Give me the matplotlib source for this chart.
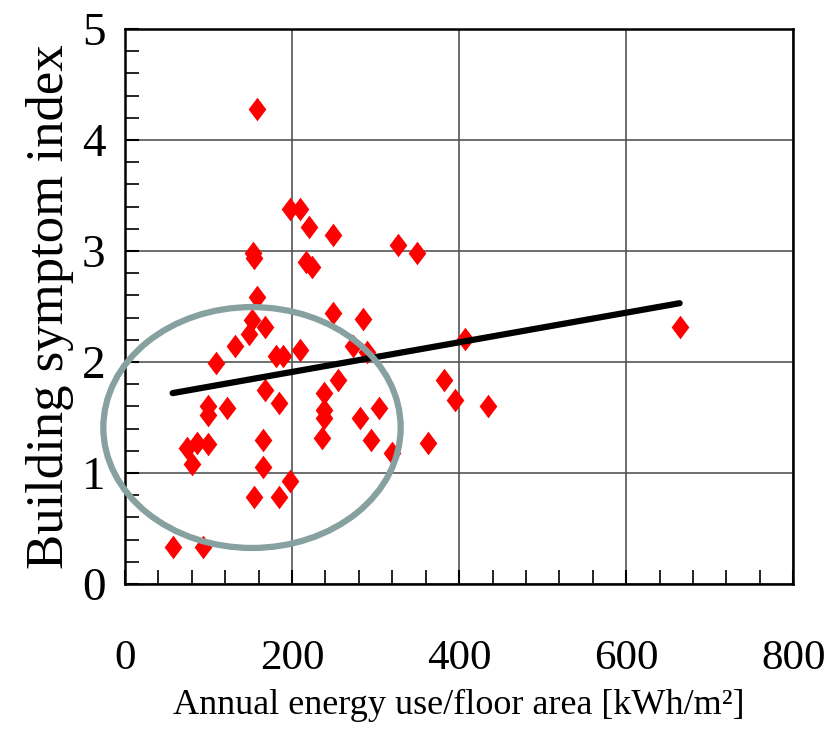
import matplotlib.pyplot as plt
from matplotlib.patches import Ellipse
from matplotlib.ticker import MultipleLocator

# building survey: energy intensity vs. symptom index
energy_use = [158, 197, 210, 220, 249, 153, 155, 327, 349, 217, 224, 158,
              152, 168, 148, 132, 249, 109, 181, 189, 210, 255, 168, 184,
              99, 99, 122, 238, 238, 238, 236, 165, 74, 86, 99, 80, 165,
              198, 154, 184, 57, 93, 285, 273, 290, 407, 281, 304, 382,
              395, 434, 295, 363, 320, 665]
symptom_index = [4.28, 3.38, 3.38, 3.22, 3.14, 2.98, 2.94, 3.05, 2.98, 2.90,
                 2.86, 2.59, 2.38, 2.32, 2.25, 2.14, 2.44, 1.99, 2.05, 2.05,
                 2.11, 1.84, 1.75, 1.63, 1.60, 1.52, 1.59, 1.72, 1.57, 1.50,
                 1.32, 1.30, 1.23, 1.27, 1.26, 1.08, 1.05, 0.93, 0.78, 0.78,
                 0.33, 0.33, 2.39, 2.14, 2.09, 2.21, 1.50, 1.59, 1.84, 1.66,
                 1.60, 1.30, 1.27, 1.18, 2.32]

# linear trend end points
trend_x = [57, 664]
trend_y = [1.72, 2.53]

# highlighted group
group_center = (152, 1.41)
group_width = 356
group_height = 2.17

plt.rcParams['font.family'] = 'Liberation Serif'

fig = plt.figure(figsize=(8.28, 7.35), dpi=100)
ax = fig.add_axes([0.151, 0.2054, 0.807, 0.7551])

diamond = [(0, 1), (0.75, 0), (0, -1), (-0.75, 0)]
ax.plot(energy_use, symptom_index, linestyle='none', marker=diamond,
        markersize=17, color='#ff0000', markeredgewidth=0, zorder=3)
ax.plot(trend_x, trend_y, color='black', linewidth=4.5,
        solid_capstyle='round', zorder=4)

ell = Ellipse(group_center, group_width, group_height, fill=False,
              edgecolor='#87a0a0', linewidth=4.5, clip_on=False, zorder=5)
ax.add_patch(ell)

ax.set_xlim(0, 800)
ax.set_ylim(0, 5)
ax.xaxis.set_major_locator(MultipleLocator(200))
ax.xaxis.set_minor_locator(MultipleLocator(40))
ax.yaxis.set_major_locator(MultipleLocator(1))
ax.yaxis.set_minor_locator(MultipleLocator(0.2))
ax.grid(True, which='major', color='#555555', linewidth=1.2)
ax.set_axisbelow(True)

ax.tick_params(which='both', direction='in', top=False, right=False)
ax.tick_params(which='major', length=10, width=1.5, labelsize=34)
ax.tick_params(axis='x', which='major', labelsize=31)
ax.tick_params(which='minor', length=10, width=1.2)
ax.tick_params(axis='x', which='major', pad=40)
ax.tick_params(axis='y', which='major', pad=14)
for sp in ax.spines.values():
    sp.set_linewidth(1.8)

ax.set_xlabel('Annual energy use/floor area [kWh/m²]', fontsize=26,
              labelpad=8)
ax.set_ylabel('Building symptom index', fontsize=38, labelpad=6)

plt.savefig('out.png', dpi=100)
